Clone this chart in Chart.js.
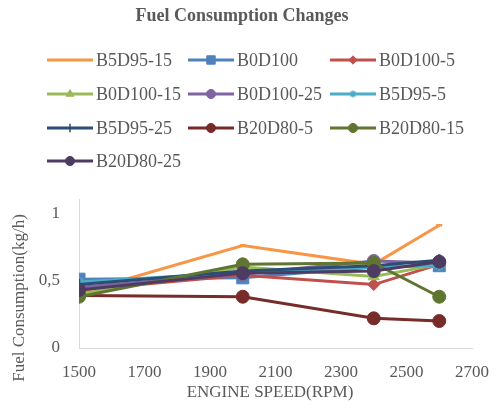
<!DOCTYPE html>
<html>
<head>
<meta charset="utf-8">
<script src="https://cdn.jsdelivr.net/npm/chart.js@4.4.1/dist/chart.umd.min.js"></script>
<style>
  html, body { margin: 0; padding: 0; background: #fff; }
  #wrap { width: 503px; height: 412px; }
</style>
</head>
<body>
<div id="wrap"><canvas id="chart"></canvas></div>
<script>
// engine speeds (RPM)
var rpm = [1500, 2000, 2400, 2600];

// fuel consumption (kg/h) per blend
var names = ['B5D95-15', 'B0D100', 'B0D100-5', 'B0D100-15', 'B0D100-25',
             'B5D95-5', 'B5D95-25', 'B20D80-5', 'B20D80-15', 'B20D80-25'];
var b5d95_15  = [0.41, 0.76, 0.62, 0.91];
var b0d100    = [0.51, 0.52, 0.60, 0.61];
var b0d100_5  = [0.43, 0.54, 0.47, 0.62];
var b0d100_15 = [0.40, 0.60, 0.53, 0.62];
var b0d100_25 = [0.45, 0.55, 0.645, 0.63];
var b5d95_5   = [0.49, 0.56, 0.60, 0.61];
var b5d95_25  = [0.47, 0.57, 0.61, 0.65];
var b20d80_5  = [0.39, 0.38, 0.22, 0.20];
var b20d80_15 = [0.38, 0.62, 0.63, 0.38];
var b20d80_25 = [0.43, 0.555, 0.57, 0.64];
var values = [b5d95_15, b0d100, b0d100_5, b0d100_15, b0d100_25,
              b5d95_5, b5d95_25, b20d80_5, b20d80_15, b20d80_25];

var xTicks = [1500, 1700, 1900, 2100, 2300, 2500, 2700];
var yTicks = [0, 0.5, 1];

var colors = ['#F79646', '#4F81BD', '#C0504D', '#9BBB59', '#8064A2',
              '#4BACC6', '#2C4D75', '#772C2A', '#5F7530', '#4D3B62'];
var markers = ['line', 'rect', 'rectRot', 'triangle', 'circle',
               'star', 'cross', 'circle', 'circle', 'circle'];
var markerSize = [3, 8.5, 6, 6.5, 6.5, 5, 6, 6.5, 6.5, 6.5];

var textColor = '#595959';
var serif = "'Liberation Serif', 'Times New Roman', serif";

var datasets = names.map(function (name, i) {
    return {
        label: name,
        data: rpm.map(function (x, j) { return { x: x, y: values[i][j] }; }),
        borderColor: colors[i],
        backgroundColor: colors[i],
        pointBackgroundColor: colors[i],
        pointBorderColor: colors[i],
        borderWidth: 3,
        pointStyle: markers[i],
        pointRadius: markerSize[i],
        pointBorderWidth: (markers[i] === 'line' || markers[i] === 'star' || markers[i] === 'cross') ? 2.5 : 1,
        showLine: true,
        tension: 0,
        order: names.length - i   // later series drawn on top, like Excel
    };
});

// legend in three fixed columns plus the axis titles
var legendCols = [47, 188, 330];
var legendRows = [60, 94, 128, 161];

var extras = {
    id: 'extras',
    afterDraw: function (chart) {
        var ctx = chart.ctx;
        ctx.save();
        chart.data.datasets.forEach(function (ds, i) {
            var x = legendCols[i % 3], y = legendRows[Math.floor(i / 3)];
            ctx.strokeStyle = ds.borderColor;
            ctx.fillStyle = ds.borderColor;
            ctx.lineWidth = 3;
            ctx.beginPath();
            ctx.moveTo(x, y);
            ctx.lineTo(x + 46, y);
            ctx.stroke();
            if (ds.pointStyle !== 'line') {
                ctx.lineWidth = (ds.pointStyle === 'star' || ds.pointStyle === 'cross') ? 1.5 : 1;
                Chart.helpers.drawPoint(ctx, {
                    pointStyle: ds.pointStyle,
                    radius: ds.pointRadius * 0.7,
                    rotation: 0,
                    borderWidth: ctx.lineWidth
                }, x + 23, y);
            }
            ctx.fillStyle = textColor;
            ctx.font = '18px ' + serif;
            ctx.textAlign = 'left';
            ctx.textBaseline = 'middle';
            ctx.fillText(ds.label, x + 49, y + 1);
        });

        ctx.fillStyle = textColor;
        ctx.font = '17px ' + serif;
        ctx.textAlign = 'center';
        ctx.textBaseline = 'middle';
        ctx.translate(20, 298);
        ctx.rotate(-Math.PI / 2);
        ctx.fillText('Fuel Consumption(kg/h)', 0, 0);
        ctx.restore();

        ctx.save();
        ctx.fillStyle = textColor;
        ctx.font = '17px ' + serif;
        ctx.textAlign = 'center';
        ctx.textBaseline = 'middle';
        ctx.fillText('ENGINE SPEED(RPM)', 270, 393);
        ctx.restore();
    }
};

new Chart(document.getElementById('chart'), {
    type: 'scatter',
    data: { datasets: datasets },
    options: {
        responsive: true,
        maintainAspectRatio: false,
        animation: false,
        layout: { padding: { left: 0, right: 19, top: 0, bottom: 0 } },
        plugins: {
            legend: { display: false },
            tooltip: { enabled: false },
            title: {
                display: true,
                text: 'Fuel Consumption Changes',
                color: textColor,
                font: { family: serif, size: 18, weight: 'bold' },
                padding: { top: 6, bottom: 172 }
            }
        },
        scales: {
            x: {
                type: 'linear',
                min: 1500,
                max: 2700,
                afterBuildTicks: function (scale) {
                    scale.ticks = xTicks.map(function (v) { return { value: v }; });
                },
                afterFit: function (scale) { scale.height = 64; },
                grid: { display: false, drawTicks: false },
                border: { color: '#D9D9D9', width: 1 },
                ticks: {
                    color: textColor,
                    font: { family: serif, size: 17 },
                    padding: 14,
                    maxRotation: 0,
                    callback: function (v) { return String(v); }
                }
            },
            y: {
                min: 0,
                max: 1.1,
                afterBuildTicks: function (scale) {
                    scale.ticks = yTicks.map(function (v) { return { value: v }; });
                },
                afterFit: function (scale) { scale.width = 79; },
                grid: { display: false, drawTicks: false },
                border: { color: '#D9D9D9', width: 1 },
                ticks: {
                    color: textColor,
                    font: { family: serif, size: 17 },
                    padding: 19,
                    callback: function (v) { return String(v).replace('.', ','); }
                }
            }
        }
    },
    plugins: [extras]
});
</script>
</body>
</html>
